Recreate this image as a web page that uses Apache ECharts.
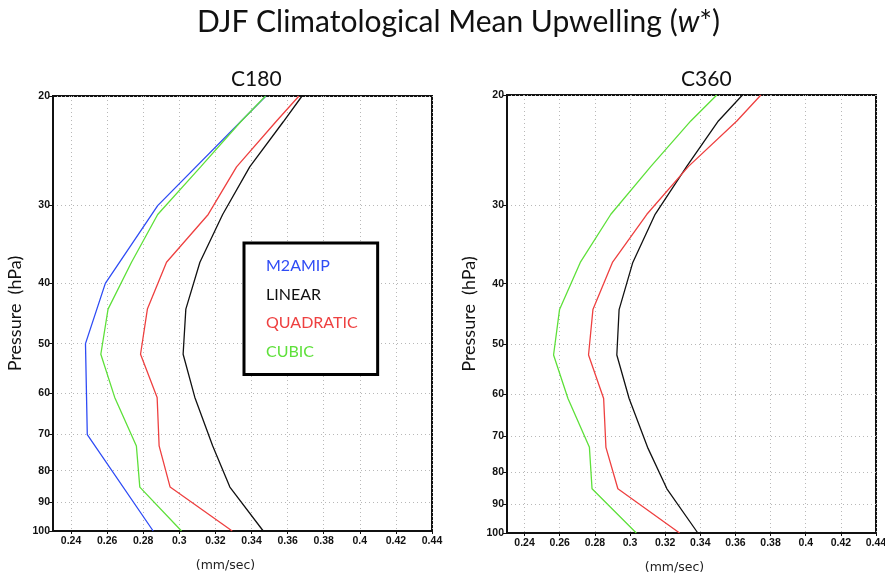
<!DOCTYPE html>
<html>
<head>
<meta charset="utf-8">
<script src="https://cdn.jsdelivr.net/npm/echarts@6/dist/echarts.min.js"></script>
<style>
  html, body { margin: 0; padding: 0; background: #fff; }
  #main { width: 885px; height: 574px; }
</style>
</head>
<body>
<div id="main"></div>
<script>
// pressure levels (hPa) of the model output, and the standard levels of M2AMIP
const levels = [20, 22, 26, 31, 37, 44, 52, 61, 73, 85, 100];
const amipLevels = [20, 30, 40, 50, 70, 100];

// w* (mm/sec), C180
const c180Amip = [0.348, 0.288, 0.259, 0.248, 0.249, 0.2855];
const c180Linear = [0.368, 0.3576, 0.339, 0.324, 0.3114, 0.3036, 0.3021, 0.3086, 0.3185, 0.328, 0.3465];
const c180Quadratic = [0.3663, 0.3535, 0.3317, 0.316, 0.2929, 0.2823, 0.2785, 0.2877, 0.2888, 0.2949, 0.3293];
const c180Cubic = [0.3478, 0.334, 0.3118, 0.288, 0.2735, 0.2605, 0.2565, 0.2642, 0.2762, 0.2781, 0.3012];

// w* (mm/sec), C360
const c360Linear = [0.364, 0.3503, 0.3323, 0.3143, 0.3016, 0.2938, 0.2925, 0.2995, 0.310, 0.321, 0.3386];
const c360Quadratic = [0.3745, 0.3608, 0.3333, 0.3096, 0.29, 0.2789, 0.2764, 0.285, 0.2863, 0.2931, 0.3282];
const c360Cubic = [0.3494, 0.3346, 0.3119, 0.2891, 0.2717, 0.2599, 0.2565, 0.2647, 0.2769, 0.2784, 0.3036];

const xTicks = [0.24, 0.26, 0.28, 0.3, 0.32, 0.34, 0.36, 0.38, 0.4, 0.42, 0.44];
const yTicks = [20, 30, 40, 50, 60, 70, 80, 90, 100];

const names = ['M2AMIP', 'LINEAR', 'QUADRATIC', 'CUBIC'];
const colors = {M2AMIP: '#2f4cf5', LINEAR: '#111111', QUADRATIC: '#ee4040', CUBIC: '#5ee03a'};

const pairs = (vals, ps) => vals.map((v, i) => [v, ps[i]]);

const gridLine = {show: true, lineStyle: {color: '#b8b8b8', type: [1, 3], width: 1}};
const tickFont = {color: '#111', fontFamily: 'Liberation Sans', fontWeight: 'bold', fontSize: 10.5};

function xAxis(i) {
    return {
        type: 'value', gridIndex: i, min: 0.23, max: 0.44,
        name: '(mm/sec)', nameLocation: 'middle', nameGap: 28,
        nameTextStyle: {fontFamily: 'DejaVu Sans', fontSize: 12.5, color: '#222', padding: [0, 34, 0, 0]},
        axisLine: {lineStyle: {color: '#111', width: 2}},
        axisTick: {show: true, length: 3, customValues: xTicks, lineStyle: {color: '#111'}},
        axisLabel: Object.assign({customValues: xTicks, margin: 5}, tickFont),
        splitLine: gridLine
    };
}

function yAxis(i) {
    return {
        type: 'log', logBase: 10, gridIndex: i, min: 20, max: 100, inverse: true,
        name: 'Pressure  (hPa)', nameLocation: 'middle', nameGap: 29,
        nameTextStyle: {fontFamily: 'Lato', fontSize: 18, color: '#111'},
        axisLine: {lineStyle: {color: '#111', width: 2}},
        axisTick: {show: true, length: 4, customValues: yTicks, lineStyle: {color: '#111'}},
        axisLabel: Object.assign({customValues: yTicks, margin: 3}, tickFont),
        splitLine: gridLine
    };
}

function line(name, vals, ps, grid) {
    return {
        name: name, type: 'line', xAxisIndex: grid, yAxisIndex: grid,
        data: pairs(vals, ps), showSymbol: false, symbol: 'none',
        lineStyle: {color: colors[name], width: 1.3}, itemStyle: {color: colors[name]},
        animation: false
    };
}

const chart = echarts.init(document.getElementById('main'));
chart.setOption({
    backgroundColor: '#fff',
    animation: false,
    title: [
        {
            text: 'DJF Climatological Mean Upwelling ({i|w}*)', left: 192, top: 2,
            textStyle: {fontFamily: 'Lato', fontSize: 30, fontWeight: 'normal', color: '#111',
                rich: {i: {fontFamily: 'Lato', fontSize: 30, fontStyle: 'italic', color: '#111'}}}
        },
        {text: 'C180', left: 226, top: 64, textStyle: {fontFamily: 'Lato', fontSize: 21, fontWeight: 'normal', color: '#111'}},
        {text: 'C360', left: 676, top: 64, textStyle: {fontFamily: 'Lato', fontSize: 21, fontWeight: 'normal', color: '#111'}}
    ],
    legend: {
        data: names.map(n => ({name: n, textStyle: {color: colors[n]}})),
        orient: 'vertical', left: 244, top: 243,
        icon: 'none', itemWidth: 0, itemHeight: 16, itemGap: 12.5,
        padding: [15, 20, 15, 17],
        borderColor: '#000', borderWidth: 3, backgroundColor: '#fff',
        selectedMode: false,
        textStyle: {fontFamily: 'Lato', fontSize: 16, lineHeight: 16}
    },
    grid: [
        {left: 53, right: 453, top: 96, bottom: 43, show: true, borderColor: '#111', borderWidth: 2, outerBoundsMode: 'none'},
        {left: 507, right: 9, top: 95, bottom: 41, show: true, borderColor: '#111', borderWidth: 2, outerBoundsMode: 'none'}
    ],
    xAxis: [xAxis(0), xAxis(1)],
    yAxis: [yAxis(0), yAxis(1)],
    series: [
        line('M2AMIP', c180Amip, amipLevels, 0),
        line('LINEAR', c180Linear, levels, 0),
        line('QUADRATIC', c180Quadratic, levels, 0),
        line('CUBIC', c180Cubic, levels, 0),
        line('LINEAR', c360Linear, levels, 1),
        line('QUADRATIC', c360Quadratic, levels, 1),
        line('CUBIC', c360Cubic, levels, 1)
    ]
});
</script>
</body>
</html>
